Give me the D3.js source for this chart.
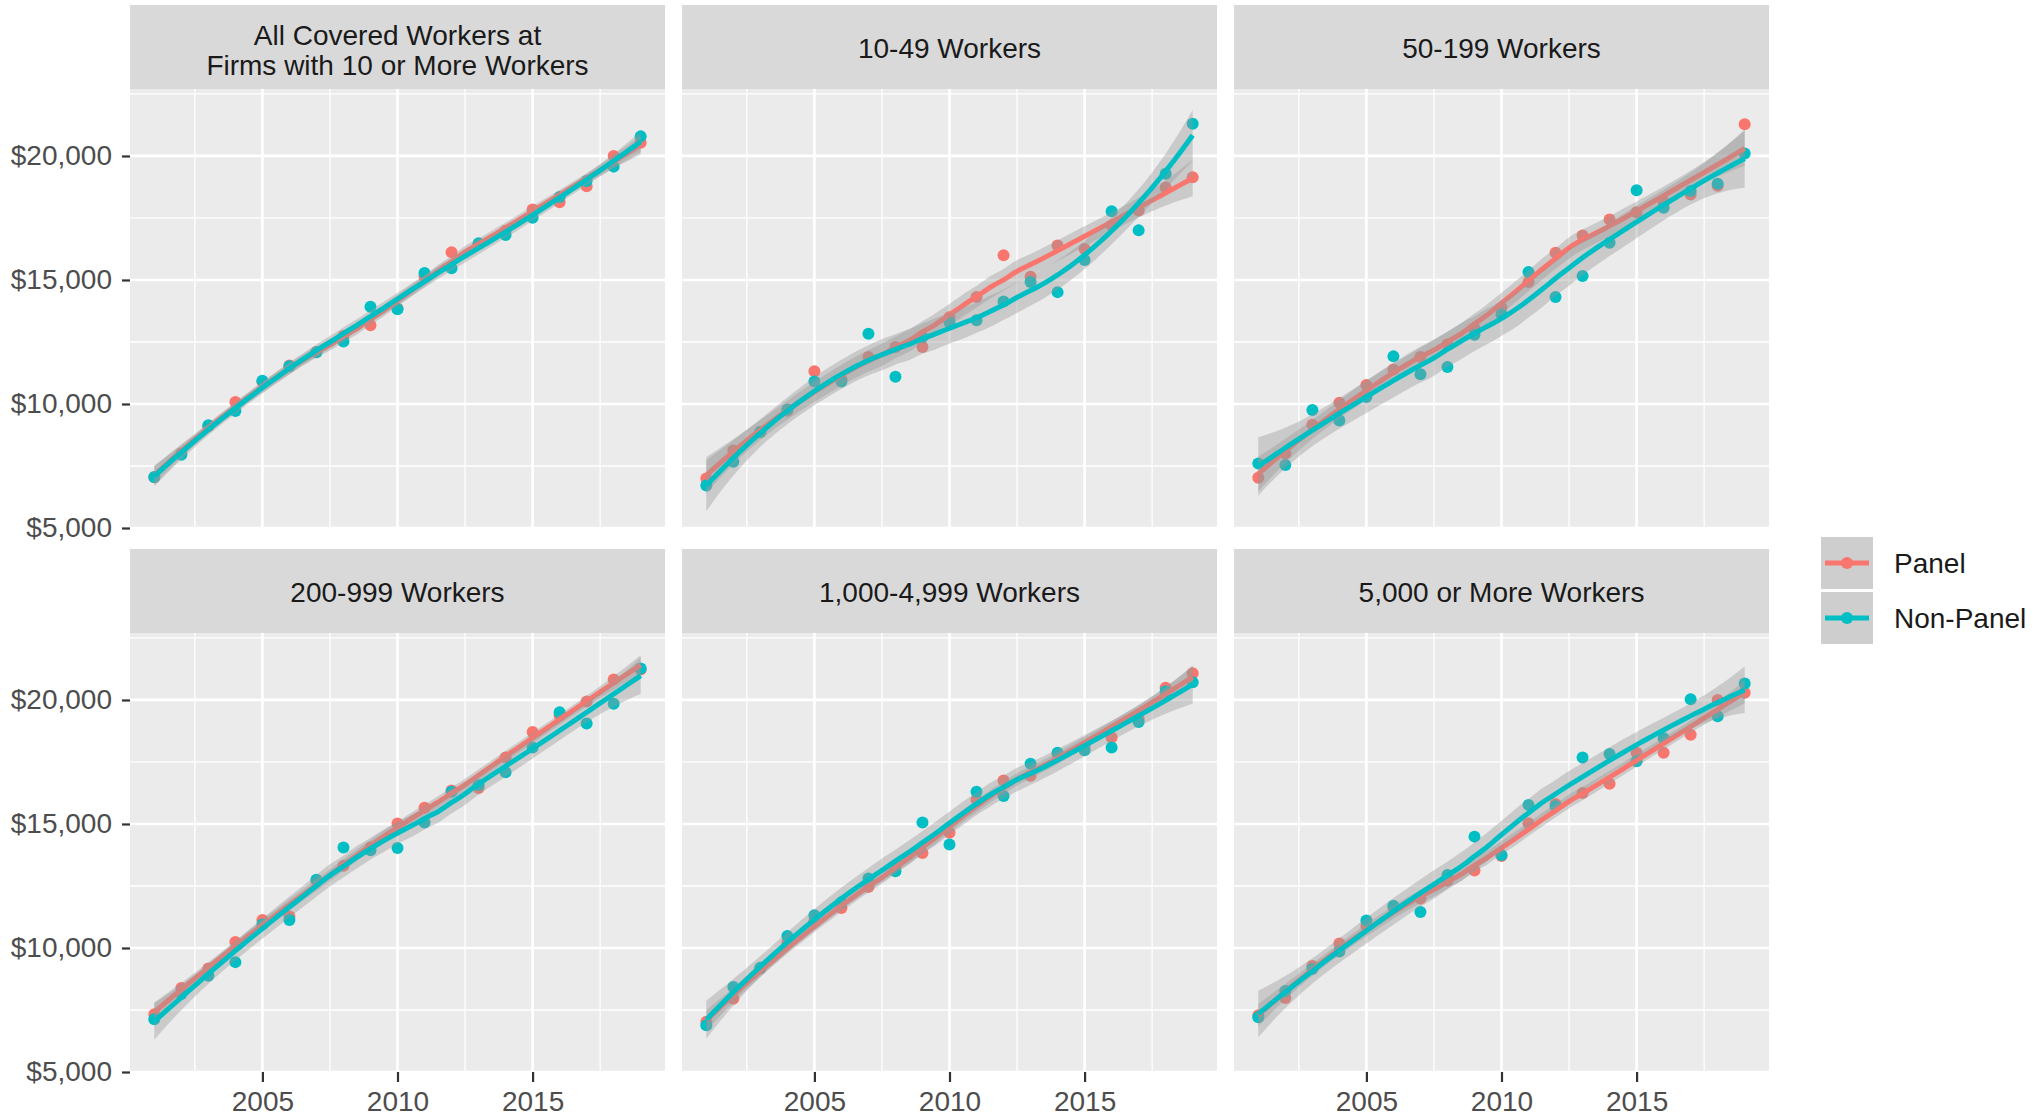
<!DOCTYPE html>
<html><head><meta charset="utf-8">
<script src="https://cdn.jsdelivr.net/npm/d3@7"></script>
<style>
body{margin:0;background:#fff;}
svg{display:block;font-family:"Liberation Sans",Arial,Helvetica,sans-serif;}
</style>
</head><body>
<svg id="chart" width="2038" height="1118"></svg>
<script>
// ---------------- DATA ----------------
const years = [2001,2002,2003,2004,2005,2006,2007,2008,2009,2010,2011,2012,2013,2014,2015,2016,2017,2018,2019];
const seriesNames = ["Panel", "Non-Panel"];
const facetTitles = [
  ["All Covered Workers at", "Firms with 10 or More Workers"],
  ["10-49 Workers"],
  ["50-199 Workers"],
  ["200-999 Workers"],
  ["1,000-4,999 Workers"],
  ["5,000 or More Workers"]
];
const panelAll    = [7050,8000,9100,10080,10900,11550,12100,12740,13170,13850,15150,16120,16450,16980,17840,18130,18780,20000,20530];
const nonPanelAll = [7060,7950,9140,9720,10940,11520,12090,12520,13920,13820,15280,15470,16480,16810,17510,18350,18990,19570,20790];
const panel10     = [7000,8120,8870,9730,11320,11000,11890,12300,12300,13500,14310,16000,15130,16390,16250,17200,17800,18730,19140];
const nonPanel10  = [6710,7670,8870,9780,10910,10910,12830,11100,12700,13300,13380,14130,14920,14510,15810,17770,17000,19280,21300];
const panel50     = [7030,8000,9160,10050,10770,11390,11890,12400,13050,13880,14920,16100,16790,17440,17730,18160,18450,18800,21280];
const nonPanel50  = [7600,7540,9760,9330,10280,11920,11200,11490,12790,13620,15320,14310,15160,16500,18620,17910,18590,18880,20100];
const panel200    = [7330,8390,9170,10240,11130,11270,12720,13320,14050,15020,15650,16350,16450,17680,18710,19380,19940,20830,21230];
const nonPanel200 = [7130,8140,8880,9430,10950,11130,12750,14050,13940,14030,15060,16300,16570,17090,18080,19500,19050,19850,21270];
const panel1000   = [7030,7950,9170,10210,11100,11610,12460,13320,13830,14650,15980,16750,16940,17830,18120,18490,19230,20490,21080];
const nonPanel1000= [6880,8430,9200,10480,11320,11840,12800,13090,15060,14170,16300,16130,17430,17870,17970,18080,19110,20340,20710];
const panel5000   = [7290,7980,9270,10180,10890,11620,11990,12720,13120,13710,15030,15810,16250,16620,17870,17870,18600,20000,20290];
const nonPanel5000= [7210,8270,9150,9860,11110,11700,11450,12940,14490,13750,15770,15710,17680,17820,17530,18460,20030,19340,20660];
const yTicks = [5000, 10000, 15000, 20000];
const yMinor = [7500, 12500, 17500, 22500];
const xTicks = [2005, 2010, 2015];
const xMinor = [2002.5, 2007.5, 2012.5, 2017.5];

const facetPanel = [panelAll, panel10, panel50, panel200, panel1000, panel5000];
const facetNonPanel = [nonPanelAll, nonPanel10, nonPanel50, nonPanel200, nonPanel1000, nonPanel5000];

// ---------------- STYLE / LAYOUT ----------------
const colors = ["#F8766D", "#00BFC4"];
const colX = [130, 682, 1234];
const panelW = 535;
const stripTop = [5, 549];
const stripH = 84;
const plotTop = [89, 633];
const plotH = 439;
const FS = 28;

// ---------------- LOESS (geom_smooth default) ----------------
function solve3(M, b) {
  const det = m => m[0][0]*(m[1][1]*m[2][2]-m[1][2]*m[2][1]) - m[0][1]*(m[1][0]*m[2][2]-m[1][2]*m[2][0]) + m[0][2]*(m[1][0]*m[2][1]-m[1][1]*m[2][0]);
  const D = det(M);
  const res = [];
  for (let c = 0; c < 3; c++) {
    const Mc = M.map((r, i) => r.map((v, j) => j === c ? b[i] : v));
    res.push(det(Mc) / D);
  }
  return res;
}
function qt975(df) {
  const z = 1.959964;
  return z + (z**3 + z)/(4*df) + (5*z**5 + 16*z**3 + 3*z)/(96*df*df) + (3*z**7 + 19*z**5 + 17*z**3 - 15*z)/(384*df**3);
}
function loess(xs, ys, span) {
  const n = xs.length, q = Math.floor(n * span);
  function opRow(x0) {
    const d = xs.map(v => Math.abs(v - x0));
    const h = d.slice().sort((a, b) => a - b)[q - 1];
    const w = d.map(di => { const r = di / h; return r < 1 ? Math.pow(1 - r*r*r, 3) : 0; });
    const S = [0, 0, 0, 0, 0];
    xs.forEach((v, i) => { const u = v - x0; let p = 1; for (let k = 0; k < 5; k++) { S[k] += w[i]*p; p *= u; } });
    const M = [[S[0], S[1], S[2]], [S[1], S[2], S[3]], [S[2], S[3], S[4]]];
    const a = solve3(M, [1, 0, 0]);
    return xs.map((v, i) => { const u = v - x0; return w[i]*(a[0] + a[1]*u + a[2]*u*u); });
  }
  const L = xs.map(opRow);
  const fitted = L.map(l => d3.sum(l.map((li, i) => li*ys[i])));
  const rss = d3.sum(ys.map((yv, i) => (yv - fitted[i])**2));
  const B = L.map((r, i) => r.map((v, j) => (i === j ? 1 : 0) - v));
  const A = [];
  for (let i = 0; i < n; i++) { A.push([]); for (let j = 0; j < n; j++) { let s = 0; for (let k = 0; k < n; k++) s += B[k][i]*B[k][j]; A[i].push(s); } }
  let one = 0, two = 0;
  for (let i = 0; i < n; i++) { one += A[i][i]; for (let j = 0; j < n; j++) two += A[i][j]*A[i][j]; }
  const sigma = Math.sqrt(rss / one);
  const df = one*one/two;
  const t = qt975(df);
  const x0s = d3.range(80).map(k => xs[0] + (xs[n-1] - xs[0]) * k / 79);
  return x0s.map(x0 => {
    const l = opRow(x0);
    const fit = d3.sum(l.map((li, i) => li*ys[i]));
    const se = sigma * Math.sqrt(d3.sum(l.map(li => li*li)));
    return {x: x0, y: fit, lo: fit - t*se, hi: fit + t*se};
  });
}

// ---------------- DRAW ----------------
const svg = d3.select("#chart");
svg.append("rect").attr("width", 2038).attr("height", 1118).attr("fill", "#fff");
const x = d3.scaleLinear().domain([2000.1, 2019.9]).range([0, panelW]);
const y = d3.scaleLinear().domain([5000, 22700]).range([plotH, 0]);
const defs = svg.append("defs");
defs.append("clipPath").attr("id", "pclip").append("rect").attr("width", panelW).attr("height", plotH);

facetTitles.forEach((title, fi) => {
  const col = fi % 3, row = Math.floor(fi / 3);
  // strip
  svg.append("rect").attr("x", colX[col]).attr("y", stripTop[row]).attr("width", panelW).attr("height", stripH).attr("fill", "#D9D9D9");
  const baselines = title.length === 2 ? [45, 75] : [58];
  title.forEach((t, li) => {
    svg.append("text").attr("x", colX[col] + panelW/2).attr("y", stripTop[row] - 5 + baselines[li])
      .attr("text-anchor", "middle").attr("font-size", FS).attr("fill", "#1A1A1A").text(t);
  });

  const g = svg.append("g").attr("transform", `translate(${colX[col]},${plotTop[row]})`);
  g.append("rect").attr("width", panelW).attr("height", plotH).attr("fill", "#EBEBEB");
  // minor grid
  g.selectAll(".ymin").data(yMinor.filter(v => v <= y.domain()[1])).enter().append("line")
    .attr("x1", 0).attr("x2", panelW).attr("y1", d => y(d)).attr("y2", d => y(d)).attr("stroke", "#fff").attr("stroke-width", 1.3);
  g.selectAll(".xmin").data(xMinor).enter().append("line")
    .attr("y1", 0).attr("y2", plotH).attr("x1", d => x(d)).attr("x2", d => x(d)).attr("stroke", "#fff").attr("stroke-width", 1.3);
  // major grid
  g.selectAll(".ymaj").data(yTicks).enter().append("line")
    .attr("x1", 0).attr("x2", panelW).attr("y1", d => y(d)).attr("y2", d => y(d)).attr("stroke", "#fff").attr("stroke-width", 2.7);
  g.selectAll(".xmaj").data(xTicks).enter().append("line")
    .attr("y1", 0).attr("y2", plotH).attr("x1", d => x(d)).attr("x2", d => x(d)).attr("stroke", "#fff").attr("stroke-width", 2.7);

  const inner = g.append("g").attr("clip-path", "url(#pclip)");
  const seriesData = [facetPanel[fi], facetNonPanel[fi]];
  // points
  seriesData.forEach((vals, si) => {
    inner.selectAll(null).data(vals).enter().append("circle")
      .attr("cx", (d, i) => x(years[i])).attr("cy", d => y(d)).attr("r", 6).attr("fill", colors[si]);
  });
  // smooths
  seriesData.forEach((vals, si) => {
    const sm = loess(years, vals, 0.75);
    inner.append("path").datum(sm)
      .attr("d", d3.area().x(d => x(d.x)).y0(d => y(d.lo)).y1(d => y(d.hi)))
      .attr("fill", "#999999").attr("fill-opacity", 0.4);
    inner.append("path").datum(sm)
      .attr("d", d3.line().x(d => x(d.x)).y(d => y(d.y)))
      .attr("fill", "none").attr("stroke", colors[si]).attr("stroke-width", 5);
  });

  // axes
  if (col === 0) {
    const ax = g.append("g").call(d3.axisLeft(y).tickValues(yTicks).tickSize(8).tickPadding(10).tickFormat(d3.format("$,.0f")));
    ax.select(".domain").remove();
    ax.selectAll("line").attr("stroke", "#333333").attr("stroke-width", 2.2);
    ax.selectAll("text").attr("font-size", FS).attr("fill", "#4D4D4D").attr("font-family", null);
  }
  if (row === 1) {
    const ax = g.append("g").attr("transform", `translate(0,${plotH})`)
      .call(d3.axisBottom(x).tickValues(xTicks).tickSize(10).tickPadding(9).tickFormat(d3.format("d")));
    ax.select(".domain").remove();
    ax.selectAll("line").attr("stroke", "#333333").attr("stroke-width", 2.2);
    ax.selectAll("text").attr("font-size", FS).attr("fill", "#4D4D4D").attr("font-family", null);
  }
});

// legend
const lg = svg.append("g").attr("transform", "translate(1821,537)");
seriesNames.forEach((name, i) => {
  const k = lg.append("g").attr("transform", `translate(0,${i*55})`);
  k.append("rect").attr("width", 52).attr("height", 52).attr("fill", "#F2F2F2");
  k.append("rect").attr("width", 52).attr("height", 52).attr("fill", "#999999").attr("fill-opacity", 0.4);
  k.append("line").attr("x1", 4).attr("x2", 48).attr("y1", 26).attr("y2", 26).attr("stroke", colors[i]).attr("stroke-width", 5);
  k.append("circle").attr("cx", 26).attr("cy", 26).attr("r", 6).attr("fill", colors[i]);
  k.append("text").attr("x", 73).attr("y", 36).attr("font-size", FS).attr("fill", "#1A1A1A").text(name);
});
</script>
</body></html>
